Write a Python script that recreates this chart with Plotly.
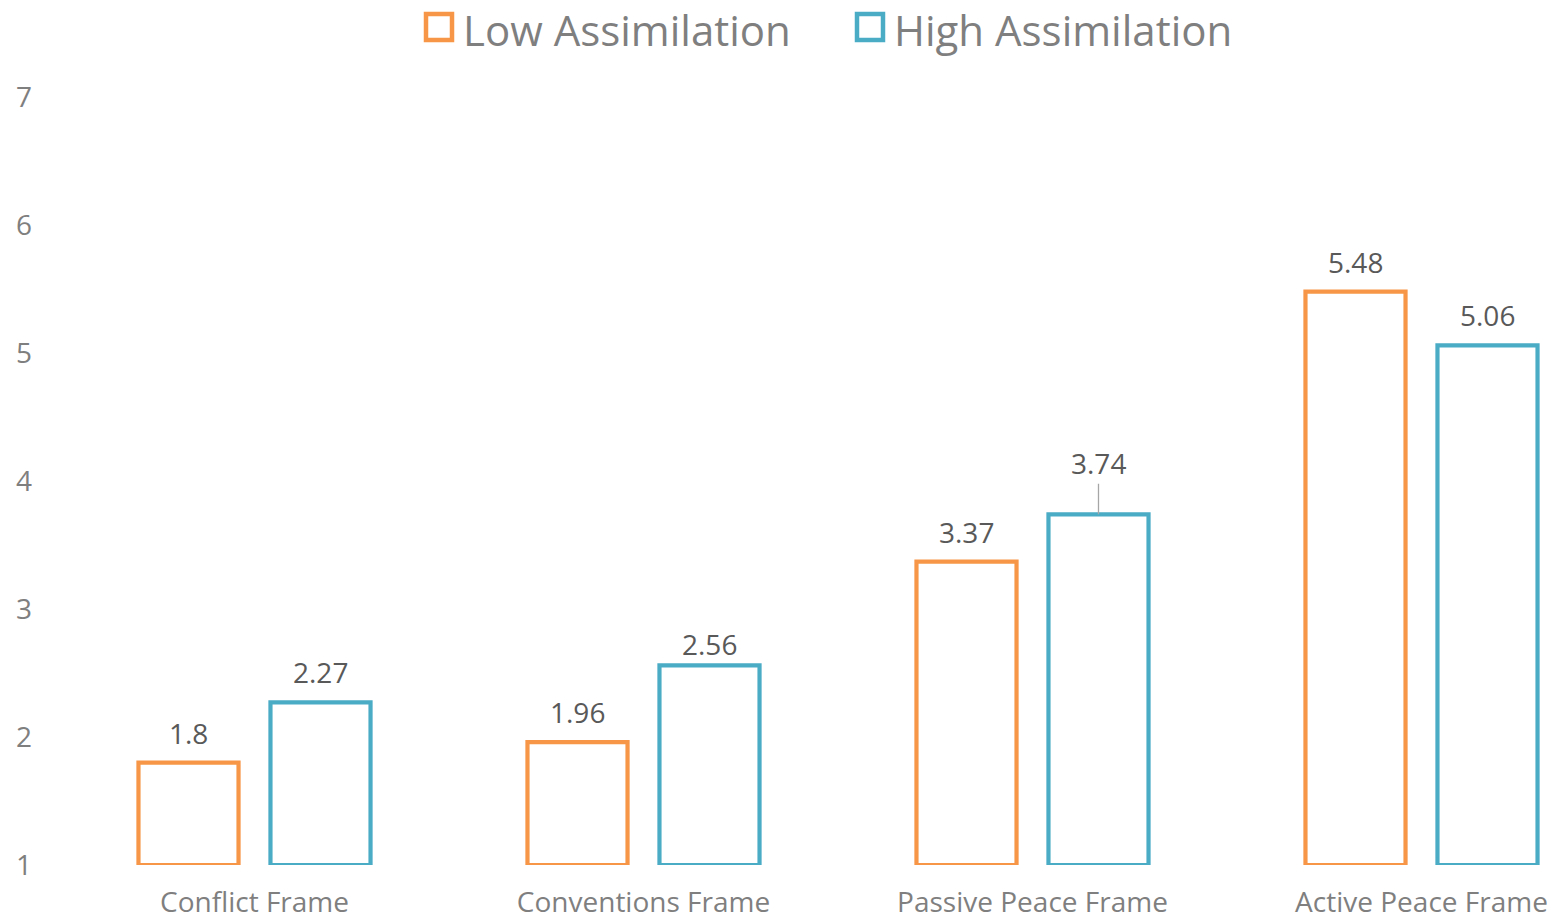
import plotly.graph_objects as go

categories = ["Conflict Frame", "Conventions Frame", "Passive Peace Frame", "Active Peace Frame"]
series_names = ["Low Assimilation", "High Assimilation"]
low_values = [1.8, 1.96, 3.37, 5.48]
high_values = [2.27, 2.56, 3.74, 5.06]
y_ticks = [1, 2, 3, 4, 5, 6, 7]

colors = ["#F79646", "#4BACC6"]
FONT = "Open Sans"
W, H = 1554, 920
ML, MR, MT, MB = 60, 0, 97, 55
BASE = 1

fig = go.Figure()
for name, vals, col in zip(series_names, [low_values, high_values], colors):
    fig.add_trace(go.Bar(
        name=name, x=categories, y=[v - BASE for v in vals], base=BASE,
        marker=dict(color="rgba(0,0,0,0)", line=dict(color=col, width=4.2)),
        showlegend=False, cliponaxis=False,
        hovertext=[str(v) for v in vals], hoverinfo="text",
    ))

# data labels (offsets in px above bar top)
label_shift = {("High Assimilation", "Passive Peace Frame"): 51,
               ("High Assimilation", "Conventions Frame"): 21}
leader = {("High Assimilation", "Passive Peace Frame")}
for si, (name, vals) in enumerate(zip(series_names, [low_values, high_values])):
    for ci, (cat, v) in enumerate(zip(categories, vals)):
        key = (name, cat)
        xpos = ci + (si - 0.5) * 0.3393
        shift = label_shift.get(key, 30)
        if key in leader:
            fig.add_annotation(x=xpos, y=v, xref="x", yref="y",
                               text=str(v), showarrow=True, arrowhead=0, arrowwidth=1.3,
                               arrowcolor="#A6A6A6", ax=0, ay=-shift,
                               font=dict(family=FONT, size=28, color="#595959"))
        else:
            fig.add_annotation(x=xpos, y=v, xref="x", yref="y",
                               text=str(v), showarrow=False, yanchor="middle", yshift=shift,
                               font=dict(family=FONT, size=28, color="#595959"))

# manual legend (large square symbols)
pw, ph = W - ML - MR, H - MT - MB
def px(x):
    return (x - ML) / pw
def py(y):
    return (H - MB - y) / ph

legend_pos = [(426, 462), (857, 893)]
for (sx, tx), name, col in zip(legend_pos, series_names, colors):
    fig.add_shape(type="rect", xref="paper", yref="paper",
                  x0=px(sx), x1=px(sx + 26), y0=py(14), y1=py(40),
                  line=dict(color=col, width=4.5), fillcolor="rgba(0,0,0,0)")
    fig.add_annotation(xref="paper", yref="paper", x=px(tx), y=py(0),
                       xanchor="left", yanchor="top", text=name, showarrow=False,
                       borderpad=0,
                       font=dict(family=FONT, size=42, color="#7F7F7F"))

fig.update_layout(
    width=W, height=H,
    margin=dict(l=ML, r=MR, t=MT, b=MB, pad=0, autoexpand=False),
    paper_bgcolor="white", plot_bgcolor="white",
    barmode="group", bargap=0.3213, bargroupgap=0.242,
    font=dict(family=FONT, color="#7F7F7F"),
    xaxis=dict(type="category", range=[-0.5, -0.5 + pw / 389.0], showgrid=False,
               showline=False, zeroline=False, ticks="", ticklabelstandoff=18,
               automargin=False,
               tickfont=dict(family=FONT, size=28, color="#7F7F7F")),
    yaxis=dict(range=[1, 7], tickvals=y_ticks, showgrid=False, showline=False,
               zeroline=False, ticks="", ticklabelstandoff=27, automargin=False,
               tickfont=dict(family=FONT, size=28, color="#7F7F7F")),
)

fig.write_html("out.html")
